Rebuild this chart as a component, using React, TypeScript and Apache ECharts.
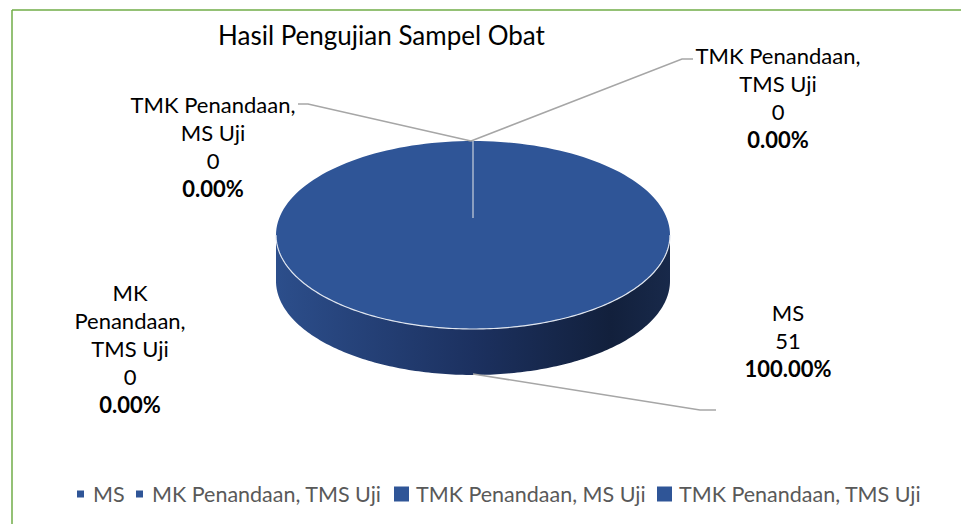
import React, { useEffect, useRef } from "react";
import * as echarts from "echarts";

const TITLE = "Hasil Pengujian Sampel Obat";
const CATEGORIES = ["MS", "MK Penandaan, TMS Uji", "TMK Penandaan, MS Uji", "TMK Penandaan, TMS Uji"];
const VALUES = [51, 0, 0, 0];

// layout
const CX = 473;
const CY = 235;
const RX = 197;
const RY = 94;
const DEPTH = 46;
const FONT = "Lato, 'Open Sans', sans-serif";
const LABEL_LAYOUT = [
  { x: 788, y: 298, wrap: 15 },
  { x: 130, y: 278, wrap: 11 },
  { x: 213, y: 90, wrap: 15 },
  { x: 778, y: 41, wrap: 15 },
];
const LEGEND_LAYOUT = [
  { left: 72, size: 7, pad: 4 },
  { left: 131, size: 7, pad: 4 },
  { left: 389, size: 15, pad: 2 },
  { left: 652, size: 15, pad: 2 },
];

function wrapName(name: string, max: number): string[] {
  const words = name.split(" ");
  const lines: string[] = [];
  let cur = "";
  for (const w of words) {
    const t = cur ? cur + " " + w : w;
    if (t.length > max && cur) {
      lines.push(cur);
      cur = w;
    } else cur = t;
  }
  if (cur) lines.push(cur);
  return lines;
}

const TOTAL = VALUES.reduce((a, b) => a + b, 0);

function pt(t: number, dy = 0): number[] {
  return [CX + RX * Math.sin(t), CY - RY * Math.cos(t) + dy];
}

function makeRender(idx: number) {
  return (params: any, api: any) => {
    const v = api.value(0);
    if (!v) return { type: "group", children: [] };
    const before = VALUES.slice(0, idx).reduce((a, b) => a + b, 0);
    const a0 = (before / TOTAL) * Math.PI * 2;
    const a1 = a0 + (v / TOTAL) * Math.PI * 2;
    const N = 180;
    const children: any[] = [];
    const s0 = Math.max(a0, Math.PI / 2);
    const s1 = Math.min(a1, (Math.PI * 3) / 2);
    if (s1 > s0) {
      const top: number[][] = [];
      const bot: number[][] = [];
      for (let k = 0; k <= N; k++) {
        const t = s0 + ((s1 - s0) * k) / N;
        top.push(pt(t));
        bot.push(pt(t, DEPTH));
      }
      children.push({
        type: "polygon",
        shape: { points: top.concat(bot.reverse()) },
        style: {
          fill: new echarts.graphic.LinearGradient(1, 0, 0, 0, [
            { offset: 0, color: "#18294a" },
            { offset: 0.15, color: "#12203c" },
            { offset: 0.5, color: "#1c3160" },
            { offset: 1, color: "#2c4e8b" },
          ]),
        },
      });
    }
    const face: number[][] = [[CX, CY]];
    for (let k = 0; k <= N; k++) face.push(pt(a0 + ((a1 - a0) * k) / N));
    children.push({
      type: "polygon",
      shape: { points: face },
      style: { fill: api.visual("color") },
    });
    if (s1 > s0) {
      const edge: number[][] = [];
      for (let k = 0; k <= N; k++) edge.push(pt(s0 + ((s1 - s0) * k) / N));
      children.push({
        type: "polyline",
        shape: { points: edge },
        style: { stroke: "#dfe5ef", lineWidth: 1.2, fill: "none" },
      });
    }
    return { type: "group", children };
  };
}

function labelText(i: number): string {
  const pct = TOTAL ? (VALUES[i] / TOTAL) * 100 : 0;
  const lines = wrapName(CATEGORIES[i], LABEL_LAYOUT[i].wrap).map((l) => `{n|${l}}`);
  lines.push(`{n|${VALUES[i]}}`);
  lines.push(`{b|${pct.toFixed(2)}%}`);
  return lines.join("\n");
}

export default function App() {
  const ref = useRef<HTMLDivElement>(null);
  useEffect(() => {
    if (!ref.current) return;
    const chart = echarts.init(ref.current, undefined, { renderer: "svg" });
    const FS = 22;
    const LH = 28;
    const labels = CATEGORIES.map((_, i) => ({
      type: "text",
      x: LABEL_LAYOUT[i].x,
      y: LABEL_LAYOUT[i].y,
      silent: true,
      style: {
        text: labelText(i),
        align: "center",
        verticalAlign: "top",
        fill: "#000",
        rich: {
          n: { fontSize: FS, fontFamily: FONT, lineHeight: LH, fill: "#000", align: "center" },
          b: { fontSize: FS, fontFamily: FONT, fontWeight: "bold", lineHeight: LH, fill: "#000", align: "center" },
        },
      },
    }));
    const lineStyle = { stroke: "#a6a6a6", lineWidth: 1.5, fill: "none" };
    chart.setOption({
      animation: false,
      backgroundColor: "#ffffff",
      color: ["#2F5597"],
      title: {
        text: TITLE,
        left: 213,
        top: 17,
        textStyle: { fontFamily: FONT, fontSize: 26, fontWeight: "normal", color: "#000" },
      },
      legend: CATEGORIES.map((name, i) => ({
        data: [name],
        left: LEGEND_LAYOUT[i].left,
        top: 478,
        itemWidth: LEGEND_LAYOUT[i].size,
        itemHeight: LEGEND_LAYOUT[i].size,
        icon: "rect",
        selectedMode: false,
        textStyle: {
          fontFamily: FONT,
          fontSize: 21.5,
          color: "#595959",
          padding: [0, 0, 0, LEGEND_LAYOUT[i].pad],
        },
      })),
      graphic: [
        { type: "line", shape: { x1: 12, y1: 10, x2: 961, y2: 10 }, style: { stroke: "#70AD47", lineWidth: 1.5 }, silent: true },
        { type: "line", shape: { x1: 12, y1: 10, x2: 12, y2: 524 }, style: { stroke: "#70AD47", lineWidth: 1.5 }, silent: true },
        { type: "polyline", shape: { points: [[298, 104], [308, 104], [471, 141]] }, style: lineStyle, silent: true, z: 10 },
        { type: "polyline", shape: { points: [[471, 141], [682, 59], [693, 59]] }, style: lineStyle, silent: true, z: 10 },
        { type: "polyline", shape: { points: [[473, 374], [700, 410], [716, 410]] }, style: lineStyle, silent: true, z: 10 },
        { type: "line", shape: { x1: 473, y1: 141, x2: 473, y2: 218 }, style: { stroke: "#c9d0dc", lineWidth: 1.2 }, silent: true, z: 10 },
        ...labels,
      ],
      series: CATEGORIES.map((name, i) => ({
        type: "custom",
        name,
        coordinateSystem: "none",
        silent: true,
        itemStyle: { color: "#2F5597" },
        data: [[VALUES[i]]],
        renderItem: makeRender(i),
      })),
    });
    return () => chart.dispose();
  }, []);
  return <div ref={ref} style={{ position: "fixed", left: 0, top: 0, width: 961, height: 524 }} />;
}
